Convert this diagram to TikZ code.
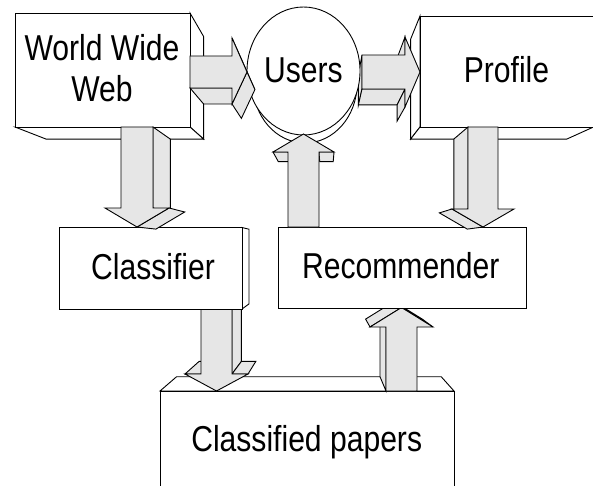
\documentclass[tikz,border=0pt]{standalone}
\usepackage{graphicx}
\usepackage{fontspec}
\setmainfont{Liberation Sans}
\usetikzlibrary{calc}
\definecolor{arrowgray}{RGB}{230,230,230}
\tikzset{
  arr/.style={fill=arrowgray,draw=black,line width=0.9pt,line join=miter},
  boxst/.style={fill=white,draw=black,line width=0.9pt,line join=miter},
  lbl/.style={inner sep=0pt,anchor=base,font=\fontsize{36}{40}\selectfont},
}
% side face of an extruded shape: style, depth factor, two front points
\newcommand\sface[4]{\filldraw[#1] (#3) -- (#4) -- ($(VP)!#2!(#4)$) -- ($(VP)!#2!(#3)$) -- cycle;}
\newcommand\nx[1]{\scalebox{0.836}[1]{#1}}
\begin{document}
\begin{tikzpicture}[x=1pt,y=-1pt]
\useasboundingbox (0,0) rectangle (593,486);
\coordinate (VP) at (326,248);
% World Wide Web box
\sface{boxst}{0.9}{190,13}{190,127}
\sface{boxst}{0.9}{190,127}{15,127}
\filldraw[boxst] (15,13) rectangle (190,127);
% Profile box
\sface{boxst}{0.9}{420,16}{420,127}
\sface{boxst}{0.9}{420,127}{593.5,127}
\filldraw[boxst] (420,16) rectangle (593.5,127);
% Classified papers box
\sface{boxst}{0.9}{160,391}{454,391}
\filldraw[boxst] (160,391) rectangle (454,492);
% Classifier -> papers
\sface{arr}{0.9}{232,309}{232,374}
\sface{arr}{0.9}{232,374}{248,374}
\sface{arr}{0.9}{185,374}{201,374}
\filldraw[arr] (201,309) -- (232,309) -- (232,374) -- (248,374) -- (216.5,391) -- (185,374) -- (201,374) -- cycle;
% Classifier box
\sface{boxst}{0.917}{242,227.5}{242,309}
\filldraw[boxst] (59,227.5) rectangle (242,309);
% papers -> Recommender
\sface{arr}{0.9}{401.5,307.5}{433,327}
\sface{arr}{0.9}{386,391}{386,327}
\sface{arr}{0.9}{370,327}{401.5,307.5}
\filldraw[arr] (386,391) -- (386,327) -- (370,327) -- (401.5,307.5) -- (433,327) -- (417,327) -- (417,391) -- cycle;
% Recommender box
\filldraw[boxst] (278,227) rectangle (526,308);
% WWW -> Classifier
\sface{arr}{0.9}{153,127}{153,208}
\sface{arr}{0.9}{169,208}{137,227}
\filldraw[arr] (121,127) -- (153,127) -- (153,208) -- (169,208) -- (137,227) -- (105,208) -- (121,208) -- cycle;
% Profile -> Recommender
\sface{arr}{0.9}{468,209}{468,127}
\sface{arr}{0.9}{483,227}{452,209}
\filldraw[arr] (468,127) -- (498,127) -- (498,209) -- (514,209) -- (483,227) -- (452,209) -- (468,209) -- cycle;
% Users -> Profile
\sface{arr}{0.9}{405,55}{405,37}
\sface{arr}{0.9}{362,89}{362,55}
\sface{arr}{0.9}{405,89}{362,89}
\sface{arr}{0.9}{405,107}{405,89}
\filldraw[arr] (362,55) -- (405,55) -- (405,37) -- (420,72) -- (405,107) -- (405,89) -- (362,89) -- cycle;
% Users
\filldraw[boxst] (305,84) ellipse [x radius=52pt, y radius=59pt];
\filldraw[boxst] (303.5,71) ellipse [x radius=56.5pt, y radius=64pt];
% WWW -> Users
\sface{arr}{0.9}{232,38}{247,72}
\sface{arr}{0.9}{232,88}{190,88}
\sface{arr}{0.9}{247,72}{232,104}
\filldraw[arr] (190,56) -- (232,56) -- (232,38) -- (247,72) -- (232,104) -- (232,88) -- (190,88) -- cycle;
% Recommender -> Users
\sface{arr}{0.9}{288,152}{273,152}
\sface{arr}{0.9}{334,152}{319,152}
\filldraw[arr] (288,227) -- (288,152) -- (273,152) -- (303.5,134) -- (334,152) -- (319,152) -- (319,227) -- cycle;
% labels
\node[lbl] (www1) at (102,61) {\nx{World Wide}};
\node[lbl] (www2) at (102,101.5) {\nx{Web}};
\node[lbl] (users) at (303.5,83) {\nx{Users}};
\node[lbl] (profile) at (506.5,83) {\nx{Profile}};
\node[lbl] (classifier) at (153,279.3) {\nx{Classifier}};
\node[lbl] (recommender) at (400.8,278.3) {\nx{Recommender}};
\node[lbl] (papers) at (306.7,451.7) {\nx{Classified papers}};
\end{tikzpicture}
\end{document}
